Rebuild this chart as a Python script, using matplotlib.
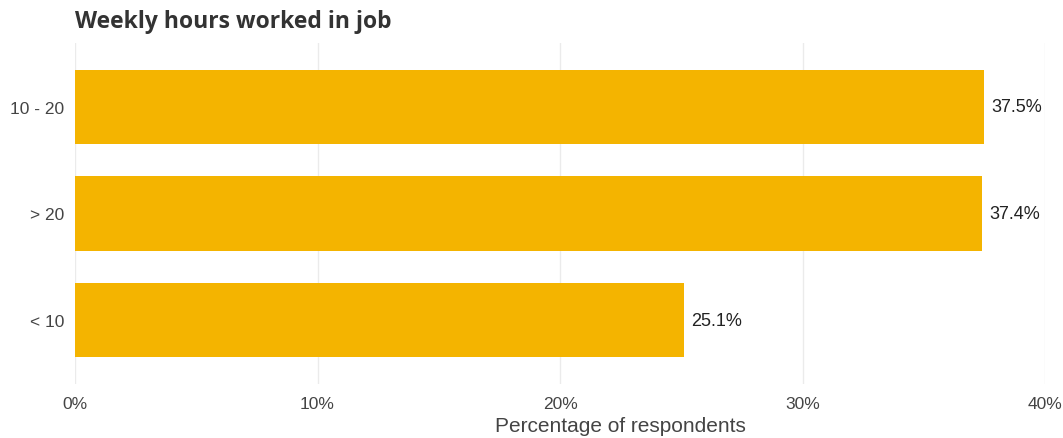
import matplotlib
matplotlib.use("Agg")
import matplotlib.pyplot as plt
import numpy as np

# Share of respondents by weekly hours worked
categories = ["< 10", "> 20", "10 - 20"]
shares = [25.1, 37.4, 37.5]
xticks = [0, 10, 20, 30, 40]

bar_color = "#F4B400"
text_color = "#444444"

plt.rcParams["font.family"] = ["Liberation Sans", "DejaVu Sans"]

fig = plt.figure(figsize=(10.63, 4.39), dpi=100)
ax = fig.add_axes([75 / 1063, 1 - 385 / 439, (1045 - 75) / 1063, (385 - 44) / 439])

y = np.arange(len(categories))
ax.barh(y, shares, height=0.7, color=bar_color, zorder=2)

for yi, v in zip(y, shares):
    ax.text(v + 0.3, yi, f"{v:.1f}%", va="center", ha="left",
            fontsize=13, color="#222222")

ax.set_xlim(0, 40)
ax.set_ylim(-0.6, 2.6)
ax.set_xticks(xticks)
ax.set_xticklabels([f"{t}%" for t in xticks])
ax.set_yticks(y)
ax.set_yticklabels(categories)

ax.grid(axis="x", color="#EBEBEB", linewidth=1, zorder=0)
ax.grid(axis="y", visible=False)
for s in ax.spines.values():
    s.set_visible(False)
ax.tick_params(axis="both", length=0, labelsize=12.5, labelcolor=text_color)
ax.tick_params(axis="x", pad=8.5)
ax.tick_params(axis="y", pad=8)

ax.set_xlabel("Percentage of respondents", fontsize=15, color=text_color)
ax.xaxis.set_label_coords(0.562, -0.095)
fig.text(75 / 1063, 1 - 22 / 439, "Weekly hours worked in job", fontsize=16.5,
         fontweight="bold", color="#333333", va="center", ha="left",
         family=["Open Sans", "DejaVu Sans"])

fig.savefig("out.png", dpi=100)
